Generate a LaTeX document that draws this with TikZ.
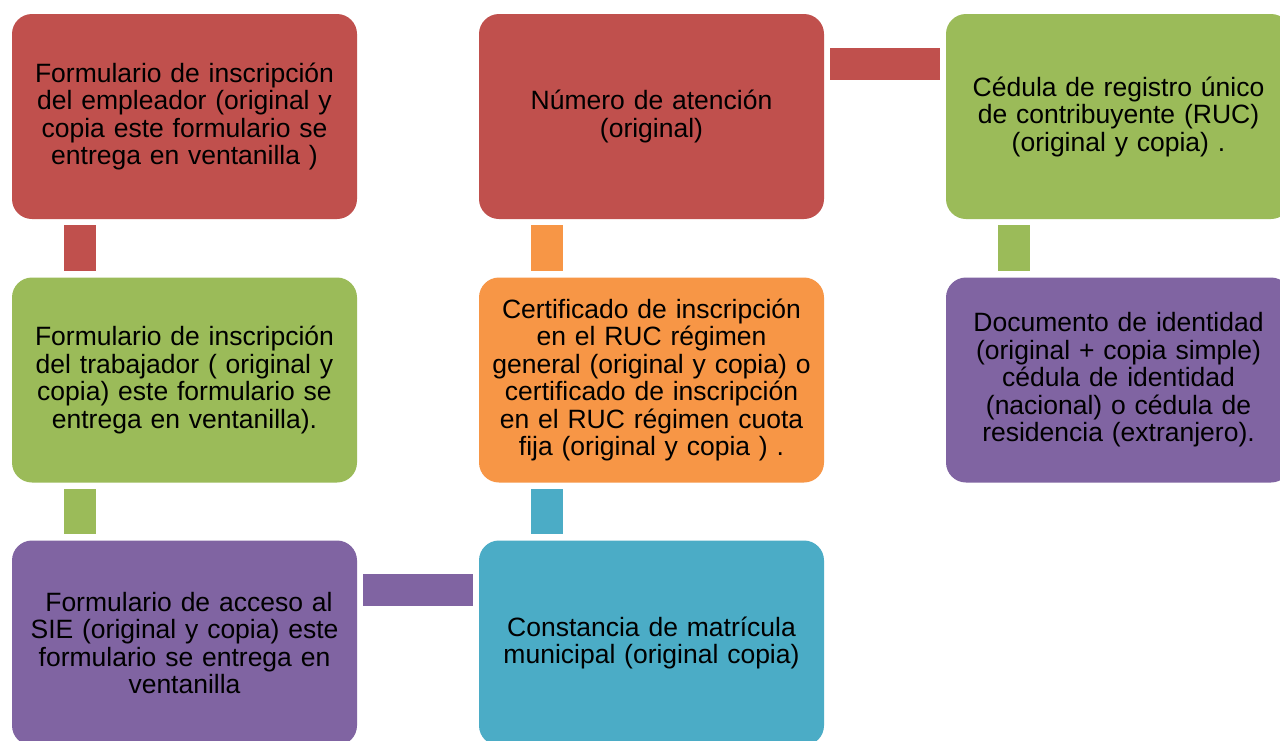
\documentclass[tikz,border=0pt]{standalone}
\usepackage{fontspec}
\setmainfont{Liberation Sans}[WordSpace=0.75]
\usepackage{xcolor}
\usetikzlibrary{calc,positioning}

\definecolor{rojo}{HTML}{C0504D}
\definecolor{verde}{HTML}{9BBB59}
\definecolor{morado}{HTML}{8064A2}
\definecolor{celeste}{HTML}{4BACC6}
\definecolor{naranja}{HTML}{F79646}

\tikzset{
    caja/.style={rectangle, rounded corners=20pt, minimum width=345pt, minimum height=205pt,
        text width=340pt, align=center, inner sep=0pt, text=black,
        font=\fontsize{26.5}{27.5}\selectfont},
}

\begin{document}
\begin{tikzpicture}[x=1pt,y=-1pt]

    \clip (0,0) rectangle (1280,740);
    \fill[white] (0,0) rectangle (1280,740);

    % Cajas
    \node[caja, fill=rojo] (emp) at (184.5,116.5) {Formulario de inscripción\\del empleador (original y\\copia este formulario se\\entrega en ventanilla )};
    \node[caja, fill=rojo] (num) at (651.5,116.5) {Número de atención\\(original)};
    \node[caja, fill=verde] (ruc) at (1118.5,116.5) {Cédula de registro único\\de contribuyente (RUC)\\(original y copia) .};

    \node[caja, fill=verde] (trab) at (184.5,380) {Formulario de inscripción\\del trabajador ( original y\\copia) este formulario se\\entrega en ventanilla).};
    \node[caja, fill=naranja] (cert) at (651.5,380) {Certificado de inscripción\\en el RUC régimen\\general (original y copia) o\\certificado de inscripción\\en el RUC régimen cuota\\fija (original y copia ) .};
    \node[caja, fill=morado] (doc) at (1118.5,380) {Documento de identidad\\(original + copia simple)\\cédula de identidad\\(nacional) o cédula de\\residencia (extranjero).};

    \node[caja, fill=morado] (sie) at (184.5,643) {\ Formulario de acceso al\\SIE (original y copia) este\\formulario se entrega en\\ventanilla};
    \node[caja, fill=celeste] (mat) at (651.5,643) {Constancia de matrícula\\municipal (original copia)};

    % Conectores verticales
    \foreach \a/\b/\c in {emp/trab/rojo, trab/sie/verde, ruc/doc/verde} {
        \fill[\c] ($(\a.south west)+(52,6)$) rectangle ($(\b.north west)+(84,-6)$);
    }
    % la columna del medio va hacia arriba
    \fill[celeste] ($(cert.south west)+(52,6)$) rectangle ($(mat.north west)+(84,-6)$);
    \fill[naranja] ($(num.south west)+(52,6)$) rectangle ($(cert.north west)+(84,-6)$);

    % Conectores horizontales
    \fill[morado] ($(sie.north east)+(6,34)$) rectangle ($(mat.north west)+(-6,66)$);
    \fill[rojo] ($(num.north east)+(6,34)$) rectangle ($(ruc.north west)+(-6,66)$);

\end{tikzpicture}
\end{document}
